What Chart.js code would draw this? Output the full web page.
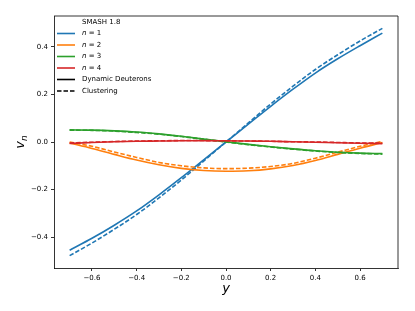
<!DOCTYPE html>
<html>
<head>
<meta charset="utf-8">
<script src="https://cdn.jsdelivr.net/npm/chart.js@4.4.1/dist/chart.umd.min.js"></script>
<style>
  html, body { margin: 0; padding: 0; background: #fff; }
  #wrap { width: 415px; height: 311px; }
</style>
</head>
<body>
<div id="wrap"><canvas id="vn-chart" width="415" height="311"></canvas></div>
<script>
// rapidity points
const rapidity = [-0.7, -0.6, -0.5, -0.4, -0.3, -0.2, -0.1, 0.0, 0.1, 0.2, 0.3, 0.4, 0.5, 0.6, 0.7]

// v_n for dynamic deuterons (solid) and clustering (dashed)
const v1_dyn = [-0.455, -0.405, -0.35, -0.29, -0.222, -0.15, -0.075, 0.0, 0.075, 0.15, 0.222, 0.29, 0.35, 0.405, 0.458]
const v1_clu = [-0.478, -0.425, -0.367, -0.305, -0.235, -0.16, -0.08, 0.0, 0.08, 0.16, 0.235, 0.305, 0.367, 0.425, 0.478]
const v2_dyn = [-0.004, -0.027, -0.052, -0.076, -0.096, -0.111, -0.12, -0.123, -0.121, -0.113, -0.099, -0.078, -0.052, -0.026, -0.002]
const v2_clu = [0.0, -0.018, -0.042, -0.065, -0.086, -0.1, -0.109, -0.112, -0.11, -0.103, -0.09, -0.068, -0.043, -0.018, 0.003]
const v3_dyn = [0.051, 0.05, 0.047, 0.042, 0.034, 0.024, 0.012, 0.001, -0.01, -0.02, -0.029, -0.037, -0.043, -0.047, -0.049]
const v3_clu = [0.05, 0.049, 0.046, 0.04, 0.033, 0.023, 0.012, 0.0, -0.011, -0.021, -0.03, -0.038, -0.044, -0.048, -0.051]
const v4_dyn = [-0.006, -0.002, 0.001, 0.003, 0.004, 0.005, 0.005, 0.005, 0.004, 0.003, 0.001, -0.001, -0.003, -0.005, -0.007]
const v4_clu = [-0.004, -0.001, 0.002, 0.004, 0.005, 0.006, 0.006, 0.005, 0.004, 0.003, 0.001, 0.0, -0.002, -0.004, -0.005]

const harmonics = ['1', '2', '3', '4']
const colors = ['#1f77b4', '#ff7f0e', '#2ca02c', '#d62728']
const legendTitle = 'SMASH 1.8'
const styleLabels = ['Dynamic Deuterons', 'Clustering']

const xTicks = [-0.6, -0.4, -0.2, 0.0, 0.2, 0.4, 0.6]
const yTicks = [-0.4, -0.2, 0.0, 0.2, 0.4]

const FONT = '"DejaVu Sans", sans-serif'
const dash = [4.5, 2]

function toPoints(vals) {
  return vals.map((v, i) => ({ x: rapidity[i], y: v }))
}

const series = [
  [v1_dyn, v1_clu],
  [v2_dyn, v2_clu],
  [v3_dyn, v3_clu],
  [v4_dyn, v4_clu]
]

var datasets = []
series.forEach((pair, n) => {
  pair.forEach((vals, k) => {
    datasets.push({
      label: 'n=' + harmonics[n] + (k ? ' clu' : ' dyn'),
      data: toPoints(vals),
      borderColor: colors[n],
      borderWidth: 1.6,
      borderDash: k ? dash : [],
      pointRadius: 0,
      cubicInterpolationMode: 'monotone',
      fill: false
    })
  })
})
datasets.forEach((d, i) => { d.order = -i })

function fmtTick(v) {
  return v.toFixed(1).replace('-', '\u2212')
}

const decorations = {
  id: 'decorations',
  afterDraw(chart) {
    const ctx = chart.ctx
    const a = chart.chartArea
    ctx.save()

    // top and right spines
    ctx.strokeStyle = '#000'
    ctx.lineWidth = 0.8
    ctx.beginPath()
    ctx.moveTo(a.left, a.top)
    ctx.lineTo(a.right, a.top)
    ctx.lineTo(a.right, a.bottom)
    ctx.stroke()

    // x label
    ctx.fillStyle = '#000'
    ctx.textAlign = 'center'
    ctx.textBaseline = 'middle'
    ctx.font = 'italic 13px ' + FONT
    ctx.fillText('y', (a.left + a.right) / 2, 289)

    // y label v_n
    ctx.save()
    ctx.translate(20, (a.top + a.bottom) / 2)
    ctx.rotate(-Math.PI / 2)
    ctx.textAlign = 'left'
    ctx.textBaseline = 'alphabetic'
    ctx.font = 'italic 13px ' + FONT
    const vw = ctx.measureText('v').width
    ctx.font = 'italic 9px ' + FONT
    const nw = ctx.measureText('n').width
    const x0 = -(vw + nw) / 2
    ctx.font = 'italic 13px ' + FONT
    ctx.fillText('v', x0, 4)
    ctx.font = 'italic 9px ' + FONT
    ctx.fillText('n', x0 + vw, 7)
    ctx.restore()

    // legend
    const lx0 = 57, lx1 = 75, tx = 82
    const rows = [33.5, 45, 56.5, 68, 79.5, 91]
    ctx.textAlign = 'left'
    ctx.textBaseline = 'middle'
    ctx.font = '7px ' + FONT
    ctx.fillText(legendTitle, tx, 22)
    ctx.lineWidth = 1.6
    harmonics.forEach((h, i) => {
      const y = rows[i]
      ctx.strokeStyle = colors[i]
      ctx.setLineDash([])
      ctx.beginPath()
      ctx.moveTo(lx0, y)
      ctx.lineTo(lx1, y)
      ctx.stroke()
      ctx.font = 'italic 7px ' + FONT
      ctx.fillText('n', tx, y)
      const w = ctx.measureText('n').width
      ctx.font = '7px ' + FONT
      ctx.fillText(' = ' + h, tx + w, y)
    })
    styleLabels.forEach((lab, k) => {
      const y = rows[4 + k]
      ctx.strokeStyle = '#000'
      ctx.setLineDash(k ? dash : [])
      ctx.beginPath()
      ctx.moveTo(lx0, y)
      ctx.lineTo(lx1, y)
      ctx.stroke()
      ctx.setLineDash([])
      ctx.font = '7px ' + FONT
      ctx.fillText(lab, tx, y)
    })
    ctx.restore()
  }
}

const axisStyle = {
  grid: { drawOnChartArea: false, drawTicks: true, tickLength: 3, color: '#000', lineWidth: 0.8 },
  border: { display: true, color: '#000', width: 0.8 },
  ticks: { color: '#000', font: { family: FONT, size: 7 }, padding: 3 }
}

new Chart(document.getElementById('vn-chart'), {
  type: 'line',
  data: { datasets: datasets },
  options: {
    responsive: false,
    animation: false,
    devicePixelRatio: 1,
    layout: { padding: { top: 16, right: 17, left: 0, bottom: 0 } },
    scales: {
      x: {
        type: 'linear',
        min: -0.77,
        max: 0.77,
        grid: axisStyle.grid,
        border: axisStyle.border,
        ticks: Object.assign({}, axisStyle.ticks, { callback: v => fmtTick(v), maxRotation: 0 }),
        afterBuildTicks: s => { s.ticks = xTicks.map(v => ({ value: v })) },
        afterFit: s => { s.height = 43 }
      },
      y: {
        type: 'linear',
        min: -0.53,
        max: 0.53,
        grid: axisStyle.grid,
        border: axisStyle.border,
        ticks: Object.assign({}, axisStyle.ticks, { callback: v => fmtTick(v) }),
        afterBuildTicks: s => { s.ticks = yTicks.map(v => ({ value: v })) },
        afterFit: s => { s.width = 54 }
      }
    },
    plugins: {
      legend: { display: false },
      tooltip: { enabled: false }
    }
  },
  plugins: [decorations]
})
</script>
</body>
</html>
